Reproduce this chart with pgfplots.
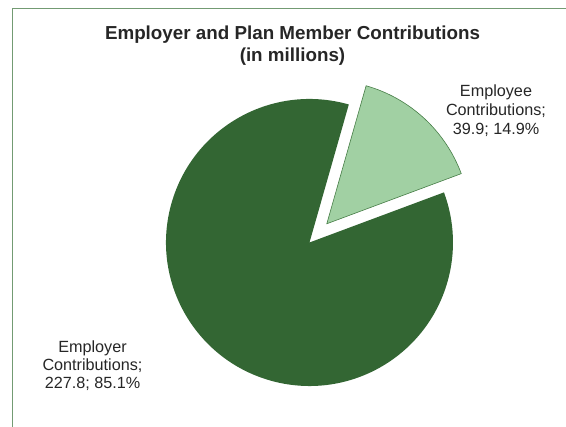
\documentclass[border=0pt]{standalone}
\usepackage{pgfplots}
\pgfplotsset{compat=1.18}
\usepackage{fontspec}
\setmainfont{Liberation Sans}
\definecolor{dkgreen}{RGB}{51,102,51}
\definecolor{ltgreen}{RGB}{161,208,163}
\definecolor{ltedge}{RGB}{70,125,70}
\definecolor{frame}{RGB}{115,155,115}
% data (in millions)
\def\valEmployer{227.8}
\def\valEmployee{39.9}
\begin{document}
\begin{tikzpicture}
\pgfmathsetmacro\spanEe{360*\valEmployee/(\valEmployer+\valEmployee)}
\pgfmathsetmacro\eeEnd{74.1}
\pgfmathsetmacro\eeStart{\eeEnd-\spanEe}
\pgfmathsetmacro\erEnd{\eeStart+360}
\pgfmathsetmacro\mid{(\eeStart+\eeEnd)/2}
\begin{axis}[
  width=566pt, height=427pt, scale only axis,
  xmin=0, xmax=566, ymin=0, ymax=427,
  axis lines=none, clip=false,
]
% frame
\draw[frame, line width=1pt] (axis cs:12,0) -- (axis cs:12,418.5) -- (axis cs:566,418.5);
% Employer slice
\fill[dkgreen] (axis cs:309.5,184.5) -- ++(\eeEnd:143.5pt) arc[start angle=\eeEnd, end angle=\erEnd, radius=143.5pt] -- cycle;
% Employee slice (exploded)
\draw[fill=ltgreen, draw=ltedge, line width=0.6pt] (axis cs:309.5,184.5) ++(\mid:25.5pt) -- ++(\eeStart:143.5pt) arc[start angle=\eeStart, end angle=\eeEnd, radius=143.5pt] -- cycle;
% title
\node[anchor=base, inner sep=0, font=\fontsize{18.8}{22}\selectfont\bfseries, text=black!85] at (axis cs:292.5,387.7) {Employer and Plan Member Contributions};
\node[anchor=base, inner sep=0, font=\fontsize{18.8}{22}\selectfont\bfseries, text=black!85] at (axis cs:292.5,365.7) {(in millions)};
% labels
\begin{scope}[every node/.style={anchor=base, inner sep=0, font=\fontsize{16.2}{19}\selectfont, text=black!85}]
\node at (axis cs:496,330.5) {Employee};
\node at (axis cs:496,311.3) {Contributions;};
\node at (axis cs:496,292.1) {39.9; 14.9\%};
\node at (axis cs:92.5,74.7) {Employer};
\node at (axis cs:92.5,56.3) {Contributions;};
\node at (axis cs:92.5,38) {227.8; 85.1\%};
\end{scope}
\end{axis}
\pgfresetboundingbox
\path (0,0) rectangle (566pt,427pt);
\end{tikzpicture}
\end{document}
